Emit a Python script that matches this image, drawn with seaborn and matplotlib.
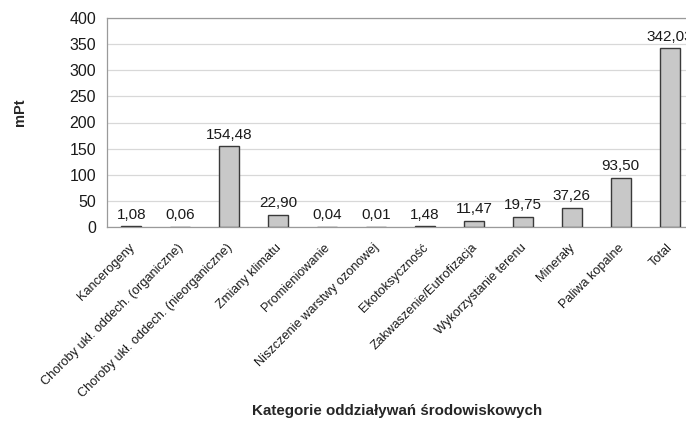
import matplotlib
matplotlib.use("Agg")
import matplotlib.pyplot as plt
import seaborn as sns
import pandas as pd

categories = [
    "Kancerogeny",
    "Choroby ukł. oddech. (organiczne)",
    "Choroby ukł. oddech. (nieorganiczne)",
    "Zmiany klimatu",
    "Promieniowanie",
    "Niszczenie warstwy ozonowej",
    "Ekotoksyczność",
    "Zakwaszenie/Eutrofizacja",
    "Wykorzystanie terenu",
    "Minerały",
    "Paliwa kopalne",
    "Total",
]
values = [1.08, 0.06, 154.48, 22.90, 0.04, 0.01, 1.48, 11.47, 19.75, 37.26, 93.50, 342.03]
y_ticks = [0, 50, 100, 150, 200, 250, 300, 350, 400]

sns.set_theme(style="white")
plt.rcParams["font.family"] = ["Liberation Sans", "DejaVu Sans"]

df = pd.DataFrame({"kategoria": categories, "mPt": values})

fig = plt.figure(figsize=(6.86, 4.21), dpi=100)
ax = fig.add_axes([107 / 686, 1 - 227 / 421, 587 / 686, 209 / 421])

sns.barplot(data=df, x="kategoria", y="mPt", color="#c8c8c8", edgecolor="#3a3a3a",
            linewidth=1.0, width=0.41, saturation=1, ax=ax, zorder=3)

ax.set_xlim(-0.5, len(categories) - 0.5)
ax.set_ylim(0, 400)
ax.set_yticks(y_ticks)
ax.set_yticklabels([str(t) for t in y_ticks], fontsize=11.5)
ax.yaxis.grid(True, color="#d8d8d8", linewidth=0.9, zorder=0)
ax.tick_params(axis="y", length=0, pad=8, colors="#1a1a1a")

# category separators as tick marks on the x axis
ax.set_xticks([i - 0.5 for i in range(len(categories) + 1)], minor=False)
ax.set_xticklabels([])
ax.tick_params(axis="x", length=4, color="#aaaaaa", width=0.8, direction="out")
for i, name in enumerate(categories):
    ax.text(i - 0.06, -28, name, rotation=45, ha="right", va="top",
            rotation_mode="anchor", fontsize=9.2, color="#1a1a1a",
            transform=ax.transData, clip_on=False)

for spine in ["top", "left", "right", "bottom"]:
    ax.spines[spine].set_color("#9a9a9a")
    ax.spines[spine].set_linewidth(0.9)

for i, v in enumerate(values):
    ax.text(i, v + 9, f"{v:.2f}".replace(".", ","), ha="center", va="bottom",
            fontsize=11, color="#1a1a1a")

ax.set_xlabel("")
ax.set_ylabel("")
fig.text(20 / 686, 1 - 112 / 421, "mPt", rotation=90, ha="center", va="center",
         fontsize=10.5, fontweight="bold")
fig.text(397 / 686, 1 - 411 / 421, "Kategorie oddziaływań środowiskowych",
         ha="center", va="center", fontsize=10.9, fontweight="bold")

fig.savefig("out.png", dpi=100)
